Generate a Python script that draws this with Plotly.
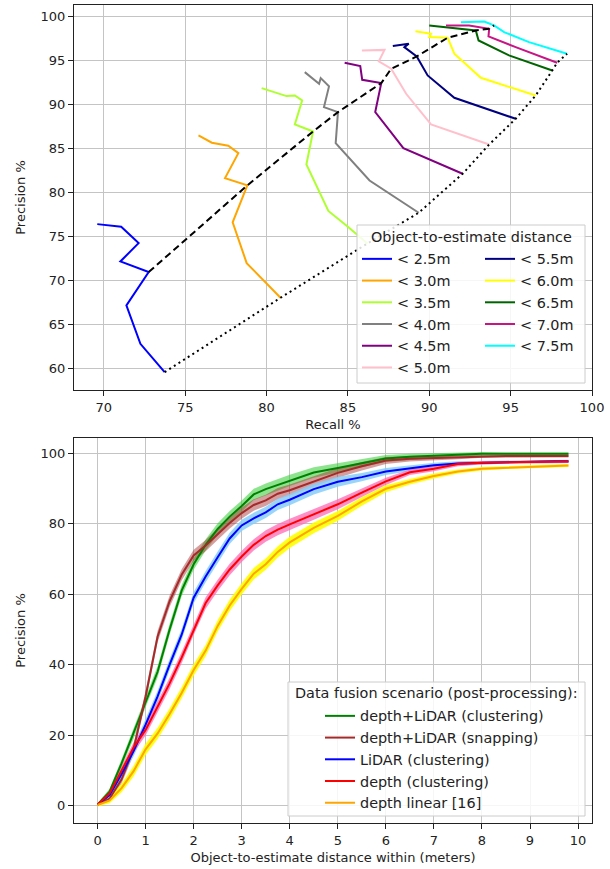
import plotly.graph_objects as go

# ---------------- Top panel: precision vs recall per distance threshold ----------------
dist_labels = ["< 2.5m", "< 3.0m", "< 3.5m", "< 4.0m", "< 4.5m", "< 5.0m",
               "< 5.5m", "< 6.0m", "< 6.5m", "< 7.0m", "< 7.5m"]
dist_colors = ["#0000ff", "#ffa500", "#adff2f", "#808080", "#800080", "#ffc0cb",
               "#000080", "#ffff00", "#006400", "#c71585", "#00ffff"]

recall_2_5 = [69.6, 71.07, 72.14, 71.02, 72.76, 71.39, 72.25, 73.74]
prec_2_5 = [76.4, 76.1, 74.24, 72.16, 70.95, 67.16, 62.8, 59.58]
recall_3_0 = [75.82, 76.64, 77.65, 78.27, 77.45, 78.82, 77.92, 78.78, 80.86]
prec_3_0 = [86.48, 85.65, 85.3, 84.47, 81.63, 80.8, 76.6, 71.97, 68.03]
recall_3_5 = [79.7, 81.23, 81.74, 82.19, 81.74, 82.86, 82.45, 83.8, 85.0, 86.2]
prec_3_5 = [91.85, 90.95, 91.02, 90.45, 87.73, 86.93, 83.18, 77.9, 76.1, 74.2]
recall_4_0 = [82.35, 83.23, 83.33, 83.84, 83.53, 84.39, 84.25, 86.33, 89.35]
prec_4_0 = [93.67, 92.35, 92.99, 92.05, 89.7, 89.13, 85.6, 81.36, 77.69]
recall_4_5 = [84.8, 85.76, 85.88, 87.05, 86.68, 88.41, 92.05]
prec_4_5 = [94.74, 94.36, 92.8, 92.42, 89.13, 85.04, 82.12]
recall_5_0 = [85.86, 87.25, 86.9, 87.66, 88.58, 90.11, 93.68]
prec_5_0 = [96.14, 96.2, 94.89, 94.06, 91.21, 87.73, 85.45]
recall_5_5 = [87.76, 88.74, 88.47, 89.23, 89.9, 91.54, 95.31]
prec_5_5 = [96.63, 96.9, 96.51, 95.45, 93.3, 90.76, 88.37]
recall_6_0 = [89.15, 90.11, 90.0, 91.13, 91.54, 93.17, 96.54]
prec_6_0 = [98.33, 98.03, 97.65, 97.58, 95.76, 93.03, 91.02]
recall_6_5 = [90.0, 91.23, 92.86, 93.03, 94.9, 97.56]
prec_6_5 = [98.98, 98.71, 98.41, 97.27, 95.57, 93.86]
recall_7_0 = [91.03, 92.45, 93.68, 93.64, 95.31, 97.86]
prec_7_0 = [98.98, 98.98, 98.6, 97.73, 96.51, 94.74]
recall_7_5 = [91.95, 93.37, 93.98, 94.6, 96.13, 98.47]
prec_7_5 = [99.35, 99.43, 98.98, 98.22, 97.08, 95.76]

recall_curves = [recall_2_5, recall_3_0, recall_3_5, recall_4_0, recall_4_5, recall_5_0,
                 recall_5_5, recall_6_0, recall_6_5, recall_7_0, recall_7_5]
precision_curves = [prec_2_5, prec_3_0, prec_3_5, prec_4_0, prec_4_5, prec_5_0,
                    prec_5_5, prec_6_0, prec_6_5, prec_7_0, prec_7_5]
# index of the operating point joined by the dashed line on each curve
knee_index = [4, 5, 5, 5, 3, 3, 3, 3, 2, 2, 2]

# ---------------- Bottom panel: precision vs distance ----------------
dist_m = [0, 0.25, 0.5, 0.75, 1.0, 1.25, 1.5, 1.75, 2.0, 2.25, 2.5, 2.75, 3.0, 3.25, 3.5,
          3.75, 4.0, 4.5, 5.0, 5.5, 6.0, 6.5, 7.0, 7.5, 8.0, 8.5, 9.0, 9.5, 9.8]
prec_fusion_clust = [0.3, 4.0, 12.0, 20.5, 29.5, 38.0, 50.0, 61.0, 68.5, 74.0, 78.5, 82.0, 85.0,
                     88.3, 89.8, 91.0, 92.3, 94.5, 95.8, 97.2, 98.5, 99.0, 99.3, 99.7, 99.8,
                     99.8, 99.8, 99.8, 99.8]
prec_fusion_snap = [0.3, 2.0, 7.5, 16.0, 31.0, 48.0, 58.0, 65.5, 71.0, 73.8, 77.0, 80.2, 83.0,
                    85.3, 86.6, 88.5, 89.5, 92.0, 94.4, 96.3, 97.9, 98.4, 98.6, 98.9, 99.2,
                    99.2, 99.2, 99.2, 99.2]
prec_lidar_clust = [0.3, 3.0, 9.0, 15.5, 23.0, 31.0, 40.0, 48.5, 59.0, 65.0, 70.5, 75.8, 79.5,
                    81.5, 83.2, 85.5, 86.8, 89.8, 91.9, 93.2, 94.8, 95.7, 96.6, 97.1, 97.3,
                    97.5, 97.6, 97.7, 97.7]
prec_depth_clust = [0.3, 3.5, 10.0, 16.5, 21.5, 28.0, 34.7, 42.0, 50.0, 57.5, 62.5, 67.0, 70.7,
                    74.0, 76.5, 78.3, 79.8, 82.6, 85.5, 88.8, 92.0, 94.6, 95.6, 96.9, 97.3,
                    97.4, 97.5, 97.5, 97.6]
prec_depth_linear = [0.2, 1.5, 5.0, 9.8, 16.0, 20.5, 26.0, 32.0, 38.5, 44.0, 51.0, 56.8, 61.5,
                     65.8, 68.5, 72.0, 74.7, 78.8, 82.2, 86.3, 89.9, 91.9, 93.5, 94.8, 95.6,
                     95.9, 96.1, 96.3, 96.5]
spread = [0.4, 0.8, 1.2, 1.5, 1.6, 1.6, 1.6, 1.6, 1.6, 1.6, 1.6, 1.6, 1.6, 1.6, 1.6, 1.6, 1.6,
          1.5, 1.4, 1.2, 1.0, 0.8, 0.7, 0.6, 0.5, 0.4, 0.4, 0.4, 0.4]

scenario_labels = ["depth+LiDAR (clustering)", "depth+LiDAR (snapping)", "LiDAR (clustering)",
                   "depth (clustering)", "depth linear [16]"]
scenario_values = [prec_fusion_clust, prec_fusion_snap, prec_lidar_clust, prec_depth_clust,
                   prec_depth_linear]
scenario_colors = ["#008000", "#a52a2a", "#0000ff", "#ff0000", "#ffa500"]
band_colors = ["rgba(50,205,50,0.55)", "rgba(165,42,42,0.45)", "rgba(135,206,250,0.85)",
               "rgba(255,105,180,0.75)", "rgba(255,255,0,0.9)"]

# ---------------- figure ----------------
W, H = 610, 869
L, R, T, B = 74, 18, 5, 46
PW, PH = W - L - R, H - T - B


def px_x(px):
    return (px - L) / PW


def px_y(py):
    return (H - B - py) / PH


FONT = "DejaVu Sans"
fig = go.Figure()

for i, (rx, py_, lab, col) in enumerate(zip(recall_curves, precision_curves, dist_labels, dist_colors)):
    fig.add_trace(go.Scatter(
        x=rx, y=py_, mode="lines", name=lab, line=dict(color=col, width=2),
        xaxis="x", yaxis="y", legend="legend" if i < 6 else "legend2",
        legendgroup=lab))

fig.add_trace(go.Scatter(
    x=[r[k] for r, k in zip(recall_curves, knee_index)],
    y=[p[k] for p, k in zip(precision_curves, knee_index)],
    mode="lines", line=dict(color="black", width=2, dash="7px,4px"),
    showlegend=False, xaxis="x", yaxis="y"))
fig.add_trace(go.Scatter(
    x=[r[-1] for r in recall_curves], y=[p[-1] for p in precision_curves],
    mode="lines", line=dict(color="black", width=2, dash="2px,3.5px"),
    showlegend=False, xaxis="x", yaxis="y"))

for vals, lab, col, bcol in zip(scenario_values, scenario_labels, scenario_colors, band_colors):
    upper = [v + s for v, s in zip(vals, spread)]
    lower = [v - s for v, s in zip(vals, spread)]
    fig.add_trace(go.Scatter(
        x=dist_m + dist_m[::-1], y=upper + lower[::-1], fill="toself", fillcolor=bcol,
        line=dict(width=0), mode="lines", hoverinfo="skip", showlegend=False,
        xaxis="x2", yaxis="y2"))
for vals, lab, col in zip(scenario_values, scenario_labels, scenario_colors):
    fig.add_trace(go.Scatter(
        x=dist_m, y=vals, mode="lines", name=lab, line=dict(color=col, width=2),
        xaxis="x2", yaxis="y2", legend="legend3", legendgroup=lab))

top_dom = [px_y(390), 1.0]
bot_dom = [0.0, px_y(438)]

axis_common = dict(showgrid=True, gridcolor="#c4c4c4", gridwidth=1, showline=True,
                   linecolor="#222222", linewidth=1.2, mirror=True, ticks="outside",
                   ticklen=5, tickwidth=1, tickcolor="#222222",
                   tickfont=dict(family=FONT, size=13, color="#222222"), zeroline=False)

fig.update_layout(
    width=W, height=H, margin=dict(l=L, r=R, t=T, b=B),
    paper_bgcolor="white", plot_bgcolor="white",
    font=dict(family=FONT, size=13, color="#222222"),
    xaxis=dict(axis_common, domain=[0, 1], anchor="y", range=[68.17, 100.0],
               tickvals=[70, 75, 80, 85, 90, 95, 100],
               title=dict(text="Recall %", font=dict(size=13), standoff=6)),
    yaxis=dict(axis_common, domain=top_dom, anchor="x", range=[57.55, 101.3],
               tickvals=[60, 65, 70, 75, 80, 85, 90, 95, 100],
               title=dict(text="Precision %", font=dict(size=13), standoff=11)),
    xaxis2=dict(axis_common, domain=[0, 1], anchor="y2", range=[-0.49, 10.29],
                tickvals=list(range(0, 11)),
                title=dict(text="Object-to-estimate distance within (meters)",
                           font=dict(size=13), standoff=6)),
    yaxis2=dict(axis_common, domain=bot_dom, anchor="x2", range=[-4.9, 104.3],
                tickvals=[0, 20, 40, 60, 80, 100],
                title=dict(text="Precision %", font=dict(size=13), standoff=11)),
    legend=dict(x=px_x(357), y=px_y(243), xanchor="left", yanchor="top",
                bgcolor="rgba(0,0,0,0)", borderwidth=0, tracegroupgap=0,
                font=dict(family=FONT, size=14.4, color="#222222")),
    legend2=dict(x=px_x(480), y=px_y(243), xanchor="left", yanchor="top",
                 bgcolor="rgba(0,0,0,0)", borderwidth=0, tracegroupgap=0,
                 font=dict(family=FONT, size=14.4, color="#222222")),
    legend3=dict(x=px_x(320), y=px_y(700), xanchor="left", yanchor="top",
                 bgcolor="rgba(0,0,0,0)", borderwidth=0, tracegroupgap=0,
                 font=dict(family=FONT, size=14.4, color="#222222")),
    shapes=[
        dict(type="rect", xref="paper", yref="paper", x0=px_x(357), x1=px_x(585),
             y0=px_y(383), y1=px_y(225), line=dict(color="#cccccc", width=1),
             fillcolor="rgba(255,255,255,0.85)", layer="above"),
        dict(type="rect", xref="paper", yref="paper", x0=px_x(288), x1=px_x(585),
             y0=px_y(816), y1=px_y(682), line=dict(color="#cccccc", width=1),
             fillcolor="rgba(255,255,255,0.85)", layer="above"),
    ],
    annotations=[
        dict(text="Object-to-estimate distance", xref="paper", yref="paper",
             x=px_x(471), y=px_y(237), xanchor="center", yanchor="middle", showarrow=False,
             font=dict(family=FONT, size=14.4, color="#222222")),
        dict(text="Data fusion scenario (post-processing):", xref="paper", yref="paper",
             x=px_x(436), y=px_y(693), xanchor="center", yanchor="middle", showarrow=False,
             font=dict(family=FONT, size=14.4, color="#222222")),
    ],
)

fig.write_html("out.html", config={"displayModeBar": False},
               post_script="document.body.style.margin='0px';document.body.style.overflow='hidden';")
